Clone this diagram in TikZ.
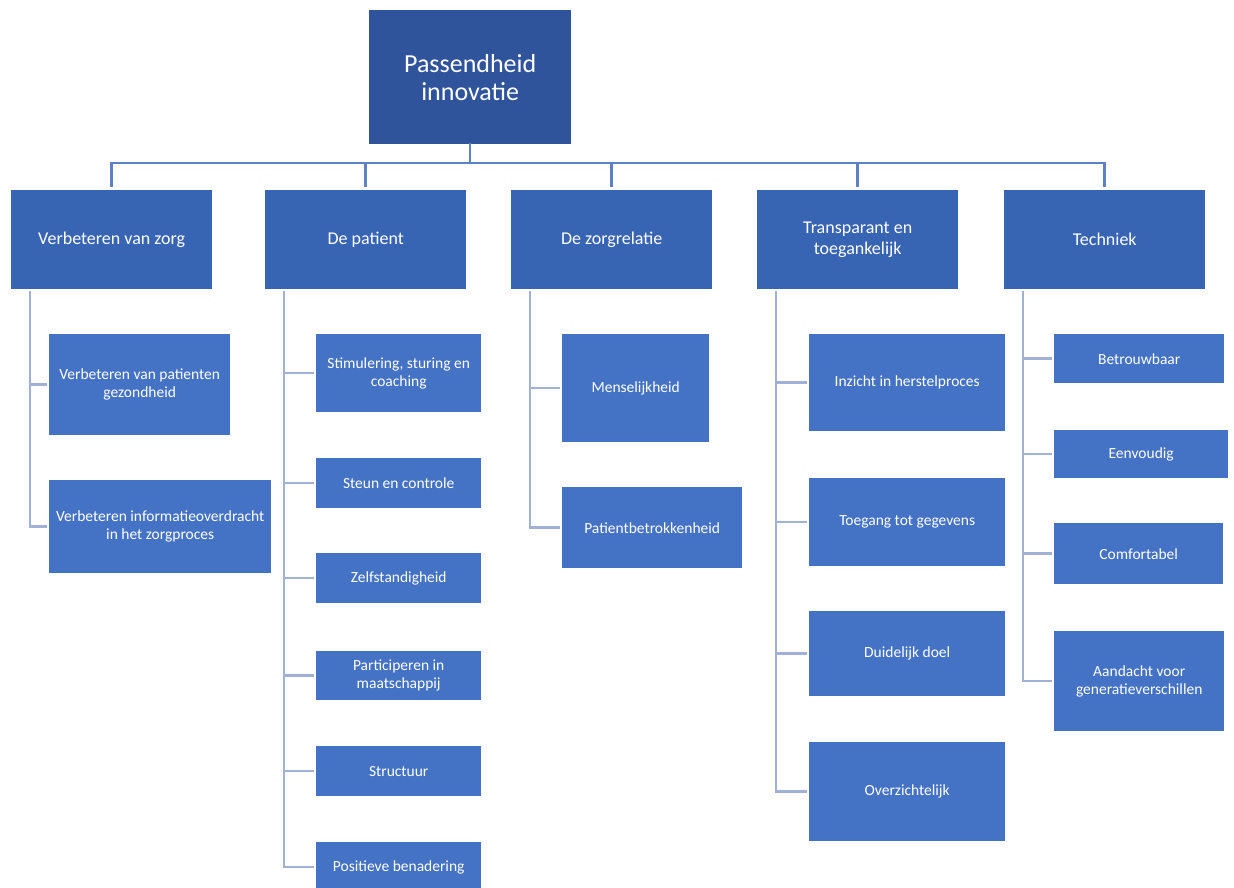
\documentclass[tikz,border=0pt]{standalone}
\usepackage{fontspec}
\setmainfont{Carlito}
\definecolor{rootblue}{RGB}{48,84,156}
\definecolor{headblue}{RGB}{56,100,180}
\definecolor{leafblue}{RGB}{68,114,196}
\definecolor{barblue}{RGB}{94,128,196}
\definecolor{twigblue}{RGB}{160,176,214}
\tikzset{
  box/.style={fill=leafblue, text=white, align=center, inner sep=2pt, anchor=north west},
  rootbox/.style={box, fill=rootblue, font=\fontsize{26}{28}\selectfont},
  headbox/.style={box, fill=headblue, minimum width=201pt, minimum height=99pt, font=\fontsize{18}{21}\selectfont},
  leafbox/.style={box, font=\fontsize{15.5}{18}\selectfont},
  bar/.style={draw=barblue, line width=2.5pt, line cap=rect},
  twig/.style={draw=twigblue, line width=2.5pt, line cap=rect},
}
\begin{document}
\begin{tikzpicture}[x=1pt, y=-1pt]
  \useasboundingbox (0,0) rectangle (1234,887);
  % root
  \node[rootbox, minimum width=202pt, minimum height=134pt] (root) at (369,10) {Passendheid\\innovatie};
  % main themes
  \foreach \n/\x/\txt in {h1/11/Verbeteren van zorg, h2/265/De patient, h3/511/De zorgrelatie,
      h4/757/{Transparant en\\toegankelijk}, h5/1004/Techniek} {
    \node[headbox] (\n) at (\x,190) {\txt};
    \coordinate (\n col) at ([xshift=19pt]\n.south west);
  }
  \coordinate (barlevel) at (0,163);
  \draw[bar] (root.south) -- (root.south |- barlevel);
  \draw[bar, shorten >=4pt] (h1.north |- barlevel) -- (h1.north);
  \draw[bar] (h1.north |- barlevel) -- (h5.north |- barlevel);
  \foreach \n in {h2,h3,h4,h5}
    \draw[bar, shorten >=4pt] (\n.north |- barlevel) -- (\n.north);

  % leaves
  \foreach \n/\x/\y/\w/\h/\txt in {
      a1/49/334/181/101/{Verbeteren van patienten\\gezondheid},
      a2/49/480/222/93/{Verbeteren informatieoverdracht\\in het zorgproces},
      b1/316/334/165/78/{Stimulering, sturing en\\coaching},
      b2/316/458/165/50/Steun en controle,
      b3/316/553/165/50/Zelfstandigheid,
      b4/316/651/165/49/{Participeren in\\maatschappij},
      b5/316/746/165/50/Structuur,
      b6/316/842/165/50/Positieve benadering,
      c1/562/334/147/108/Menselijkheid,
      c2/562/487/180/81/Patientbetrokkenheid,
      d1/809/334/196/97/Inzicht in herstelproces,
      d2/809/478/196/88/Toegang tot gegevens,
      d3/809/611/196/85/Duidelijk doel,
      d4/809/742/196/99/Overzichtelijk,
      e1/1054/334/170/49/Betrouwbaar,
      e2/1054/430/174/48/Eenvoudig,
      e3/1054/523/169/61/Comfortabel,
      e4/1054/631/170/100/{Aandacht voor\\generatieverschillen}} {
    \node[leafbox, minimum width=\w pt, minimum height=\h pt] (\n) at (\x,\y) {\txt};
  }

  % column lines
  \foreach \c/\last in {h1/a2, h2/b6, h3/c2, h4/d4, h5/e4}
    \draw[twig, shorten <=3pt] (\c col) -- (\c col |- \last.west);
  \foreach \c/\n in {h1/a1, h1/a2, h2/b1, h2/b2, h2/b3, h2/b4, h2/b5, h2/b6,
      h3/c1, h3/c2, h4/d1, h4/d2, h4/d3, h4/d4, h5/e1, h5/e2, h5/e3, h5/e4}
    \draw[twig, shorten >=3pt] (\c col |- \n.west) -- (\n.west);
\end{tikzpicture}
\end{document}
